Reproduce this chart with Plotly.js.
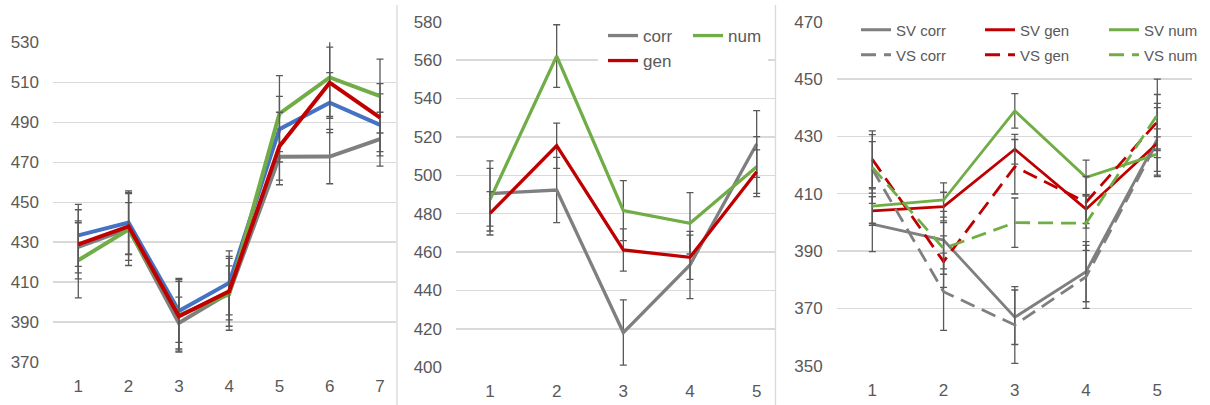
<!DOCTYPE html>
<html><head><meta charset="utf-8">
<script src="https://cdn.plot.ly/plotly-3.0.1.min.js"></script>
<style>html,body{margin:0;padding:0;background:#fff}#chart{width:1210px;height:405px}</style>
</head><body><div id="chart"></div>
<script>
// ---------- Panel 1 data ----------
const p1X = [1, 2, 3, 4, 5, 6, 7];
const p1Labels = ['1', '2', '3', '4', '5', '6', '7'];
const p1Gray = [427.6, 436.8, 389.5, 404.6, 472.7, 472.8, 481.5];
const p1GrayErr = [13, 13, 13, 13.5, 14, 13.6, 13.5];
const p1Blue = [433.4, 439.8, 395.5, 409.6, 486.5, 499.8, 488.7];
const p1BlueErr = [15.5, 15.8, 15.7, 16, 16.4, 15, 15.5];
const p1Green = [420.9, 436.3, 393.4, 403.9, 494.3, 512.4, 503.1];
const p1GreenErr = [18.8, 18, 18.5, 18, 19, 19.5, 18.5];
const p1Red = [428.9, 437.9, 392.9, 405.4, 478, 509.8, 492.3];
const p1RedErr = [17.3, 17, 17.5, 17.5, 17, 17.8, 17];

// ---------- Panel 2 data ----------
const p2X = [1, 2, 3, 4, 5];
const p2Labels = ['1', '2', '3', '4', '5'];
const p2Corr = [490.5, 492.3, 418.1, 453.3, 516.3];
const p2CorrErr = [17, 17, 17, 17.5, 17.4];
const p2Num = [487.3, 562.1, 481.6, 475, 504.5];
const p2NumErr = [16.3, 16.3, 15.6, 16, 15.6];
const p2Gen = [480.2, 515.4, 461.1, 457.3, 501.9];
const p2GenErr = [11.3, 11.8, 11, 11.5, 11.3];

// ---------- Panel 3 data ----------
const p3X = [1, 2, 3, 4, 5];
const p3Labels = ['1', '2', '3', '4', '5'];
const svCorr = [399.4, 393.8, 366.9, 382.8, 429];
const svCorrErr = [9.6, 10, 9.5, 10.5, 12.5];
const svGen = [404, 405.5, 425.5, 404.6, 427.6];
const svGenErr = [5, 5, 5.2, 5, 5];
const svNum = [405.7, 407.8, 438.9, 415.7, 423.8];
const svNumErr = [6, 6, 6, 6, 6];
const vsCorr = [418.6, 375.8, 364.2, 381, 428];
const vsCorrErr = [12, 13.5, 13.4, 11, 12];
const vsGen = [422, 386.3, 419.4, 407, 435.1];
const vsGenErr = [9.9, 9, 9.5, 9, 9.5];
const vsNum = [419.2, 390.9, 399.9, 399.7, 437.5];
const vsNumErr = [9, 9, 8.6, 9.5, 12.5];

// ---------- styles ----------
const GRAY = '#7f7f7f', RED = '#c00000', GREEN = '#70ad47', BLUE = '#4472c4';
const ERR = '#595959';
const FONT = 'Liberation Sans, Arial, sans-serif';
const TXT = '#595959';

function tr(x, y, err, name, color, width, xa, ya, legend, showlegend, dash, lw) {
  const t = {
    type: 'scatter', mode: 'lines', x: x, y: y, name: name,
    xaxis: xa, yaxis: ya, legend: legend, showlegend: showlegend,
    line: {color: color, width: width, dash: dash || 'solid'},
    error_y: {type: 'data', array: err, visible: true, color: ERR, thickness: 1.3, width: 3.5},
    hoverinfo: 'skip'
  };
  if (lw) t.legendwidth = lw;
  return t;
}

const data = [
  tr(p1X, p1Gray, p1GrayErr, 'gray', GRAY, 4, 'x', 'y', 'legend', false),
  tr(p1X, p1Blue, p1BlueErr, 'blue', BLUE, 4, 'x', 'y', 'legend', false),
  tr(p1X, p1Green, p1GreenErr, 'green', GREEN, 4, 'x', 'y', 'legend', false),
  tr(p1X, p1Red, p1RedErr, 'red', RED, 4, 'x', 'y', 'legend', false),

  tr(p2X, p2Corr, p2CorrErr, 'corr', GRAY, 3.3, 'x2', 'y2', 'legend', true),
  tr(p2X, p2Num, p2NumErr, 'num', GREEN, 3.3, 'x2', 'y2', 'legend', true, null, 55),
  tr(p2X, p2Gen, p2GenErr, 'gen', RED, 3.3, 'x2', 'y2', 'legend2', true, null, 55),

  tr(p3X, svCorr, svCorrErr, 'SV corr', GRAY, 2.8, 'x3', 'y3', 'legend3', true),
  tr(p3X, svGen, svGenErr, 'SV gen', RED, 2.8, 'x3', 'y3', 'legend3', true),
  tr(p3X, svNum, svNumErr, 'SV num', GREEN, 2.8, 'x3', 'y3', 'legend3', true, null, 65),
  tr(p3X, vsCorr, vsCorrErr, 'VS corr', GRAY, 2.8, 'x3', 'y3', 'legend4', true, '15px,8px'),
  tr(p3X, vsGen, vsGenErr, 'VS gen', RED, 2.8, 'x3', 'y3', 'legend4', true, '15px,8px'),
  tr(p3X, vsNum, vsNumErr, 'VS num', GREEN, 2.8, 'x3', 'y3', 'legend4', true, '15px,8px', 65)
];

const W = 1210, H = 405;
const px = v => v / W;
const py = v => 1 - v / H;

function xax(domain, range, vals, labels, anchor) {
  return {domain: domain, range: range, tickmode: 'array', tickvals: vals, ticktext: labels,
    showgrid: false, zeroline: false, showline: false, ticks: '', ticklabelstandoff: 12,
    tickfont: {family: FONT, size: 17, color: TXT}, anchor: anchor, fixedrange: true};
}
function yax(domain, range, anchor) {
  return {domain: domain, range: range, tick0: range[0], dtick: 20,
    showgrid: true, gridcolor: '#d9d9d9', gridwidth: 1.3, zeroline: false, showline: false,
    ticks: '', ticklabelstandoff: 13, tickfont: {family: FONT, size: 17, color: TXT},
    anchor: anchor, fixedrange: true};
}
function leg(x, y, ew, size) {
  return {x: px(x), xanchor: 'left', y: py(y), yanchor: 'middle', orientation: 'h',
    entrywidth: ew, entrywidthmode: 'pixels', bgcolor: 'rgba(0,0,0,0)', borderwidth: 0,
    font: {family: FONT, size: size, color: TXT}, traceorder: 'normal',
    tracegroupgap: 0, itemclick: false, itemdoubleclick: false};
}

const layout = {
  width: W, height: H, margin: {l: 0, r: 0, t: 0, b: 0, autoexpand: false},
  paper_bgcolor: '#ffffff', plot_bgcolor: 'rgba(0,0,0,0)',
  font: {family: FONT, color: TXT},
  xaxis: xax([px(53), px(396)], [0.497, 7.318], p1X, p1Labels, 'y'),
  yaxis: yax([0, 1], [370, 530], 'x'),
  xaxis2: xax([px(456), px(775)], [0.49, 5.275], p2X, p2Labels, 'y2'),
  yaxis2: yax([0, 1], [400, 580], 'x2'),
  xaxis3: xax([px(836.7), px(1192)], [0.5, 5.487], p3X, p3Labels, 'y3'),
  yaxis3: yax([0, 1], [350, 470], 'x3'),
  legend: leg(603, 36, 40, 17),
  legend2: leg(603, 61, 40, 17),
  legend3: leg(856, 30, 79, 15),
  legend4: leg(856, 55, 79, 15),
  shapes: [
    {type: 'rect', xref: 'paper', yref: 'paper', x0: px(598), x1: px(768), y0: py(73), y1: py(26),
     fillcolor: '#ffffff', line: {width: 0}, layer: 'above'},
    {type: 'rect', xref: 'paper', yref: 'paper', x0: px(832), x1: px(1210), y0: py(67), y1: py(14),
     fillcolor: '#ffffff', line: {width: 0}, layer: 'above'},
    {type: 'line', xref: 'paper', yref: 'paper', x0: px(397), x1: px(397), y0: 0, y1: py(5),
     line: {color: '#d9d9d9', width: 1.3}},
    {type: 'line', xref: 'paper', yref: 'paper', x0: px(775.5), x1: px(775.5), y0: 0, y1: py(5),
     line: {color: '#d9d9d9', width: 1.3}}
  ]
};
layout.yaxis.domain = [(H - 362) / H, (H - 42.3) / H];
layout.yaxis2.domain = [(H - 367.3) / H, (H - 21.7) / H];
layout.yaxis3.domain = [(H - 365.7) / H, (H - 21.7) / H];

Plotly.newPlot('chart', data, layout, {staticPlot: true, displayModeBar: false});
</script>
</body></html>
